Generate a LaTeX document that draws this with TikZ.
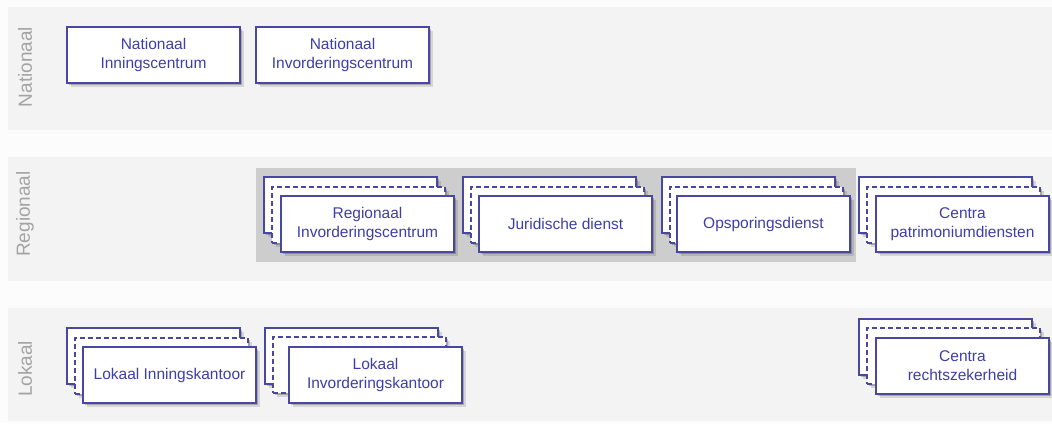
\documentclass[tikz,border=0pt]{standalone}
\usepackage{fontspec}
\setmainfont{Liberation Sans}
\usetikzlibrary{shadows}

\definecolor{pagebg}{HTML}{FCFCFC}
\definecolor{bandbg}{HTML}{F3F3F3}
\definecolor{groupbg}{HTML}{CDCDCD}
\definecolor{boxline}{RGB}{72,72,160}
\definecolor{boxtext}{RGB}{62,62,168}
\definecolor{levellabel}{HTML}{A3A3A3}

\tikzset{
  band/.style={fill=bandbg, draw=none},
  levelname/.style={rotate=90, text=levellabel, inner sep=0pt,
    font=\fontsize{19}{22}\selectfont},
  unit/.style={draw=boxline, line width=1.2pt, fill=white,
    minimum width=173pt, minimum height=56pt, anchor=north west,
    inner sep=0pt, outer sep=0pt, text=boxtext, align=center,
    font=\fontsize{15.5}{19}\selectfont,
    general shadow={shadow xshift=3.5pt, shadow yshift=-3.5pt,
      fill=black, opacity=0.12},
    drop shadow={shadow xshift=2pt, shadow yshift=-2pt,
      fill=black, opacity=0.22}},
  copyunit/.style={unit, dash pattern=on 5pt off 3pt}
}

\begin{document}
\begin{tikzpicture}[x=1pt, y=-1pt]
  % canvas
  \fill[pagebg] (0,0) rectangle (1052,423);
  \useasboundingbox (0,0) rectangle (1052,423);

  % level bands
  \fill[band] (8,7) rectangle (1052,130);
  \fill[band] (8,157) rectangle (1052,281);
  \fill[band] (8,308) rectangle (1052,421);

  \node[levelname] (lblN) at (25,67) {Nationaal};
  \node[levelname] (lblR) at (25,214) {Regionaal};
  \node[levelname] (lblL) at (25,369) {Lokaal};

  % regional group
  \fill[groupbg] (256,168) rectangle (856,262);

  % national units
  \node[unit] (nic) at (67,27) {Nationaal\\Inningscentrum};
  \node[unit] (nvc) at (256,27) {Nationaal\\Invorderingscentrum};

  % regional units (stacked)
  \node[unit] (ric3) at (264,177) {};
  \node[copyunit] (ric2) at (272,187) {};
  \node[unit] (ric) at (281,196) {Regionaal\\Invorderingscentrum};

  \node[unit] (jur3) at (463,177) {};
  \node[copyunit] (jur2) at (471,187) {};
  \node[unit] (jur) at (479,196) {Juridische dienst};

  \node[unit] (ops3) at (662,177) {};
  \node[copyunit] (ops2) at (670,187) {};
  \node[unit] (ops) at (677,196) {Opsporingsdienst};

  \node[unit] (cpd3) at (859,177) {};
  \node[copyunit] (cpd2) at (867,187) {};
  \node[unit] (cpd) at (876,196) {Centra\\patrimoniumdiensten};

  % local units (stacked)
  \node[unit] (lik3) at (67,328) {};
  \node[copyunit] (lik2) at (75,338) {};
  \node[unit] (lik) at (83,347) {Lokaal Inningskantoor};

  \node[unit] (lvk3) at (265,328) {};
  \node[copyunit] (lvk2) at (273,337) {};
  \node[unit] (lvk) at (289,347) {Lokaal\\Invorderingskantoor};

  \node[unit] (crz3) at (859,319) {};
  \node[copyunit] (crz2) at (867,328) {};
  \node[unit] (crz) at (876,338) {Centra\\rechtszekerheid};
\end{tikzpicture}
\end{document}
